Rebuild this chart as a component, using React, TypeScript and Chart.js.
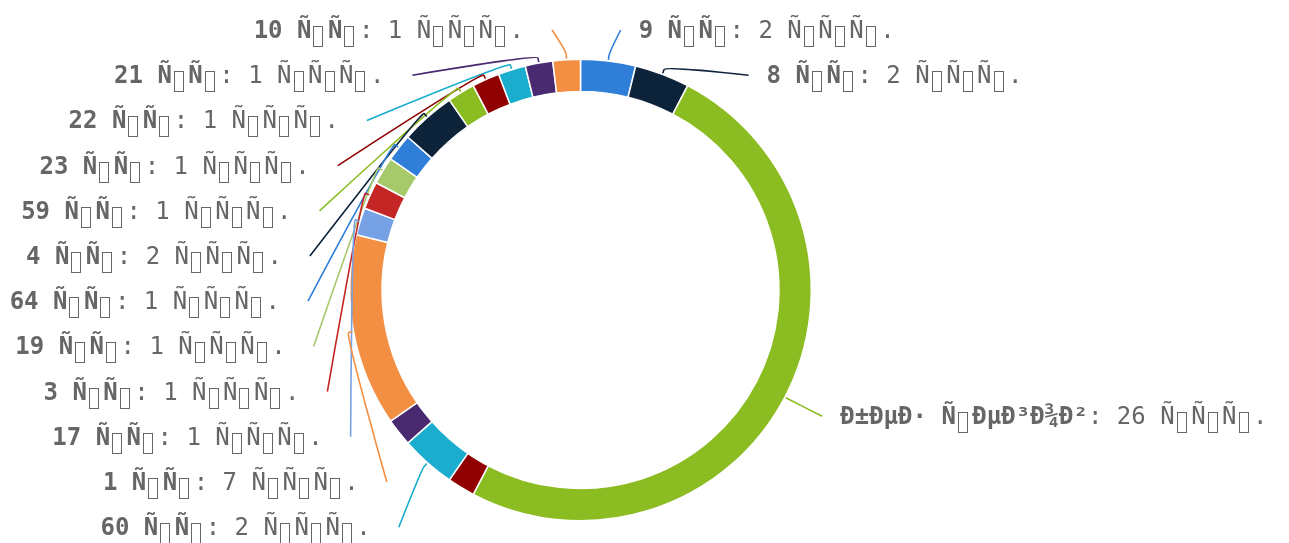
import React, { useEffect, useRef } from 'react';
import { Chart, registerables } from 'chart.js';

Chart.register(...registerables);

// Data (labels are kept exactly as the reference shows them: UTF-8 read as Latin-1)
const categories: string[] = [
  '9 Ñ\u0081Ñ\u0082',
  '8 Ñ\u0081Ñ\u0082',
  'Ð±ÐµÐ· Ñ\u0082ÐµÐ³Ð¾Ð²',
  '2 Ñ\u0081Ñ\u0082',
  '60 Ñ\u0081Ñ\u0082',
  '5 Ñ\u0081Ñ\u0082',
  '1 Ñ\u0081Ñ\u0082',
  '17 Ñ\u0081Ñ\u0082',
  '3 Ñ\u0081Ñ\u0082',
  '19 Ñ\u0081Ñ\u0082',
  '64 Ñ\u0081Ñ\u0082',
  '4 Ñ\u0081Ñ\u0082',
  '59 Ñ\u0081Ñ\u0082',
  '23 Ñ\u0081Ñ\u0082',
  '22 Ñ\u0081Ñ\u0082',
  '21 Ñ\u0081Ñ\u0082',
  '10 Ñ\u0081Ñ\u0082',
];
const values: number[] = [2, 2, 26, 1, 2, 1, 7, 1, 1, 1, 1, 2, 1, 1, 1, 1, 1];
const unit = 'Ñ\u0088Ñ\u0082Ñ\u0083.';
const palette: string[] = [
  '#2f7ed8', '#0d233a', '#8bbc21', '#910000', '#1aadce',
  '#492970', '#f28f43', '#77a1e5', '#c42525', '#a6c96a',
];

// Style / layout constants
const W = 1289;
const H = 543;
const FONT_FAMILY = "'DejaVu Sans Mono', monospace";
const FONT_SIZE = 24;
const LABEL_COLOR = '#666666';
const LABEL_DISTANCE = 42;
const NATURAL_INSET = 1;
const CONNECTOR_BREAK = 5;
const LABEL_SPACING = 45.2;
const LABEL_TOP = 30;
const LABEL_BOTTOM = 15;
const TEXT_GAP_LEFT = 28;
const TEXT_GAP_RIGHT = 18;
const BASELINE_SHIFT = 8;
const CTRL_ADVANCE = 16.5; // advance of a glyph-less character (drawn as a box)
const BOX_W = 9;
const BOX_H = 20;

const colorAt = (i: number) => palette[i % palette.length];
const isControl = (ch: string) => {
  const c = ch.charCodeAt(0);
  return (c >= 0x80 && c <= 0x9f) || c < 0x20;
};

function splitRuns(text: string): { ctrl: boolean; s: string }[] {
  const runs: { ctrl: boolean; s: string }[] = [];
  for (const ch of text) {
    const c = isControl(ch);
    const last = runs[runs.length - 1];
    if (!c && last && !last.ctrl) last.s += ch;
    else runs.push({ ctrl: c, s: ch });
  }
  return runs;
}

function measure(ctx: CanvasRenderingContext2D, text: string) {
  let w = 0;
  for (const run of splitRuns(text)) w += run.ctrl ? CTRL_ADVANCE : ctx.measureText(run.s).width;
  return w;
}

// draws text; characters without a glyph (C1 controls) are shown as an outlined box, like the reference
function drawText(ctx: CanvasRenderingContext2D, text: string, x: number, baseline: number) {
  let cx = x;
  for (const run of splitRuns(text)) {
    if (run.ctrl) {
      ctx.save();
      ctx.strokeStyle = LABEL_COLOR;
      ctx.lineWidth = 1;
      ctx.strokeRect(Math.round(cx + 2) + 0.5, Math.round(baseline - 12) + 0.5, BOX_W, BOX_H);
      ctx.restore();
      cx += CTRL_ADVANCE;
    } else {
      ctx.fillText(run.s, cx, baseline);
      cx += ctx.measureText(run.s).width;
    }
  }
}

const pieLabels = {
  id: 'pieLabels',
  afterDatasetsDraw(chart: any) {
    const ctx: CanvasRenderingContext2D = chart.ctx;
    const meta = chart.getDatasetMeta(0);
    const arcs: any[] = meta.data;
    if (!arcs.length) return;
    const cx = arcs[0].x;
    const cy = arcs[0].y;
    const r = arcs[0].outerRadius;
    const R = r + LABEL_DISTANCE;
    const yMin = LABEL_TOP;
    const yMax = chart.height - LABEL_BOTTOM;

    const items = arcs.map((arc: any, i: number) => {
      const a = (arc.startAngle + arc.endAngle) / 2;
      return {
        i,
        a,
        value: values[i],
        left: Math.cos(a) < 0,
        natY: cy + (R - NATURAL_INSET) * Math.sin(a),
        y: 0,
      };
    });

    ctx.save();
    for (const side of [false, true]) {
      let list = items.filter((it) => it.left === side);
      const cap = Math.floor((yMax - yMin) / LABEL_SPACING + 1e-6) + 1;
      if (list.length > cap) {
        const ranked = [...list].sort((p, q) => q.value - p.value || q.i - p.i);
        const keep = new Set(ranked.slice(0, cap));
        list = list.filter((it) => keep.has(it));
      }
      list.sort((p, q) => p.natY - q.natY);
      list.forEach((it, k) => {
        it.y = Math.min(Math.max(it.natY, yMin), yMax);
        if (k > 0) it.y = Math.max(it.y, list[k - 1].y + LABEL_SPACING);
      });
      for (let k = list.length - 1; k >= 0; k--) {
        const it = list[k];
        if (k === list.length - 1) it.y = Math.min(it.y, yMax);
        else it.y = Math.min(it.y, list[k + 1].y - LABEL_SPACING);
      }
      list.forEach((it, k) => {
        const atTop = k === 0 && it.y - yMin < LABEL_SPACING / 2;
        const atBottom = k === list.length - 1 && yMax - it.y < LABEL_SPACING / 2;
        const ySrc = atTop || atBottom ? it.natY : it.y;
        const dy = ySrc - cy;
        const dx = Math.sqrt(Math.max(R * R - dy * dy, 0));
        const ex = side ? cx - dx : cx + dx;
        const ca = Math.cos(it.a);
        const sa = Math.sin(it.a);
        const bx = cx + (r + 1) * ca;
        const by = cy + (r + 1) * sa;
        const kx = cx + (r + CONNECTOR_BREAK) * ca;
        const ky = cy + (r + CONNECTOR_BREAK) * sa;
        const c2x = 2 * kx - bx;
        const c2y = 2 * ky - by;

        ctx.beginPath();
        ctx.moveTo(ex, it.y);
        ctx.bezierCurveTo(ex, it.y, c2x, c2y, kx, ky);
        ctx.lineTo(bx, by);
        ctx.strokeStyle = colorAt(it.i);
        ctx.lineWidth = 1.6;
        ctx.stroke();

        const boldText = categories[it.i];
        const normalText = ': ' + values[it.i] + ' ' + unit;
        ctx.textBaseline = 'alphabetic';
        ctx.textAlign = 'left';
        ctx.font = `bold ${FONT_SIZE}px ${FONT_FAMILY}`;
        const bw = measure(ctx, boldText);
        ctx.font = `${FONT_SIZE}px ${FONT_FAMILY}`;
        const nw = measure(ctx, normalText);
        const startX = side ? ex - TEXT_GAP_LEFT - bw - nw : ex + TEXT_GAP_RIGHT;
        const base = it.y + BASELINE_SHIFT;
        ctx.fillStyle = LABEL_COLOR;
        ctx.font = `bold ${FONT_SIZE}px ${FONT_FAMILY}`;
        drawText(ctx, boldText, startX, base);
        ctx.font = `${FONT_SIZE}px ${FONT_FAMILY}`;
        drawText(ctx, normalText, startX + bw, base);
      });
    }
    ctx.restore();
  },
};

export default function App() {
  const ref = useRef<HTMLCanvasElement | null>(null);

  useEffect(() => {
    if (!ref.current) return;
    const chart = new Chart(ref.current, {
      type: 'doughnut',
      data: {
        labels: categories,
        datasets: [
          {
            data: values,
            backgroundColor: values.map((_, i) => colorAt(i)),
            borderColor: '#ffffff',
            borderWidth: 1.5,
          },
        ],
      },
      options: {
        responsive: false,
        animation: false,
        cutout: '86%',
        layout: { padding: { left: 349, right: 477, top: 58, bottom: 21 } },
        plugins: {
          legend: { display: false },
          tooltip: { enabled: false },
        },
      },
      plugins: [pieLabels],
    } as any);
    return () => chart.destroy();
  }, []);

  return (
    <div style={{ position: 'fixed', left: 0, top: 0, width: W, height: H, background: '#fff' }}>
      <canvas ref={ref} width={W} height={H} style={{ display: 'block' }} />
    </div>
  );
}
